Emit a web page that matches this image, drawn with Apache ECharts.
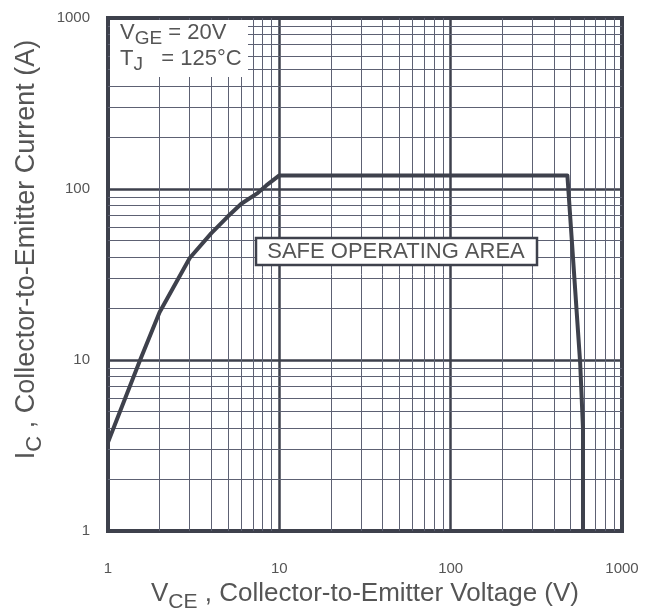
<!DOCTYPE html>
<html>
<head>
<meta charset="utf-8">
<script src="https://cdn.jsdelivr.net/npm/echarts@6/dist/echarts.min.js"></script>
<style>
  html, body { margin: 0; padding: 0; background: #fff; }
  #chart { width: 647px; height: 609px; }
</style>
</head>
<body>
<div id="chart"></div>
<script>
// SOA boundary, VCE (V) vs IC (A)
const soaVce = [1, 1.54, 2, 3, 4, 5, 6, 7.5, 8.4, 10, 480, 570, 592, 592];
const soaIc  = [3.3, 10, 19, 39.5, 55, 69, 82, 95, 105, 120, 120, 9.6, 4, 1];

// minor grid lines (log decades)
const xMinor = [2, 3, 4, 5, 6, 7, 8, 9, 20, 30, 40, 50, 60, 70, 80, 90, 200, 300, 400, 500, 600, 700, 800, 900];
const yMinor = [2, 3, 4, 5, 6, 7, 8, 9, 20, 30, 40, 50, 60, 70, 80, 90, 200, 300, 400, 500, 600, 700, 800, 900];

const ink = '#3e414c';
const gridInk = '#5d6173';
const txt = '#555';
const font = '"Liberation Sans", Arial, sans-serif';

const chart = echarts.init(document.getElementById('chart'));

chart.setOption({
  animation: false,
  backgroundColor: '#fff',
  grid: {
    left: 108, right: 25, top: 18, bottom: 78,
    outerBoundsMode: 'none', containLabel: false,
    show: true, borderColor: ink, borderWidth: 4
  },
  xAxis: {
    type: 'log', logBase: 10, min: 1, max: 1000,
    name: '{m|V}{s|CE}{m| , Collector-to-Emitter Voltage (V)}',
    nameLocation: 'middle', nameGap: 40,
    nameTextStyle: {
      rich: {
        m: { fontSize: 26, color: txt, fontFamily: font },
        s: { fontSize: 21, color: txt, fontFamily: font, padding: [16, 0, 0, 0] }
      }
    },
    axisLine: { show: false },
    axisTick: { show: false },
    axisLabel: { color: txt, fontSize: 15, fontFamily: font, margin: 30, formatter: v => String(v) },
    splitLine: { show: true, lineStyle: { color: ink, width: 2.5 } }
  },
  yAxis: {
    type: 'log', logBase: 10, min: 1, max: 1000,
    name: '{m|I}{s|C}{m| , Collector-to-Emitter Current (A)}',
    nameLocation: 'middle', nameGap: 56, nameRotate: 90,
    nameTextStyle: {
      padding: [0, 0, 0, 50],
      rich: {
        m: { fontSize: 27, color: txt, fontFamily: font },
        s: { fontSize: 22, color: txt, fontFamily: font, padding: [16, 0, 0, 0] }
      }
    },
    axisLine: { show: false },
    axisTick: { show: false },
    axisLabel: { color: txt, fontSize: 15, fontFamily: font, margin: 18, formatter: v => String(v) },
    splitLine: { show: true, lineStyle: { color: ink, width: 2.5 } }
  },
  series: [
    {
      type: 'line', data: [], silent: true, z: 1,
      markLine: {
        silent: true, symbol: 'none', label: { show: false },
        lineStyle: { color: gridInk, width: 1, type: 'solid' },
        data: xMinor.map(v => ({ xAxis: v })).concat(yMinor.map(v => ({ yAxis: v })))
      }
    },
    {
      type: 'line', z: 5,
      data: soaVce.map((v, i) => [v, soaIc[i]]),
      showSymbol: false, symbol: 'none',
      lineStyle: { color: ink, width: 4, join: 'round' }
    }
  ],
  graphic: [
    {
      type: 'rect', z: 50,
      shape: { x: 110, y: 20, width: 138, height: 57 },
      style: { fill: '#fff' }
    },
    {
      type: 'text', z: 51, left: 120, top: 22,
      style: {
        text: '{m|V}{s|GE}{m| = 20V}',
        rich: {
          m: { fontSize: 22, fill: txt, fontFamily: font },
          s: { fontSize: 19, fill: txt, fontFamily: font, padding: [12, 0, 0, 0] }
        }
      }
    },
    {
      type: 'text', z: 51, left: 120, top: 48,
      style: {
        text: '{m|T}{s|J}{m|   = 125°C}',
        rich: {
          m: { fontSize: 22, fill: txt, fontFamily: font },
          s: { fontSize: 19, fill: txt, fontFamily: font, padding: [12, 0, 0, 0] }
        }
      }
    },
    {
      type: 'rect', z: 50,
      shape: { x: 256, y: 238, width: 281, height: 27 },
      style: { fill: '#fff', stroke: ink, lineWidth: 2.5 }
    },
    {
      type: 'text', z: 51, x: 396, y: 252,
      style: {
        text: 'SAFE OPERATING AREA',
        fontSize: 22, fill: txt, fontFamily: font,
        align: 'center', verticalAlign: 'middle'
      }
    }
  ]
});
</script>
</body>
</html>
